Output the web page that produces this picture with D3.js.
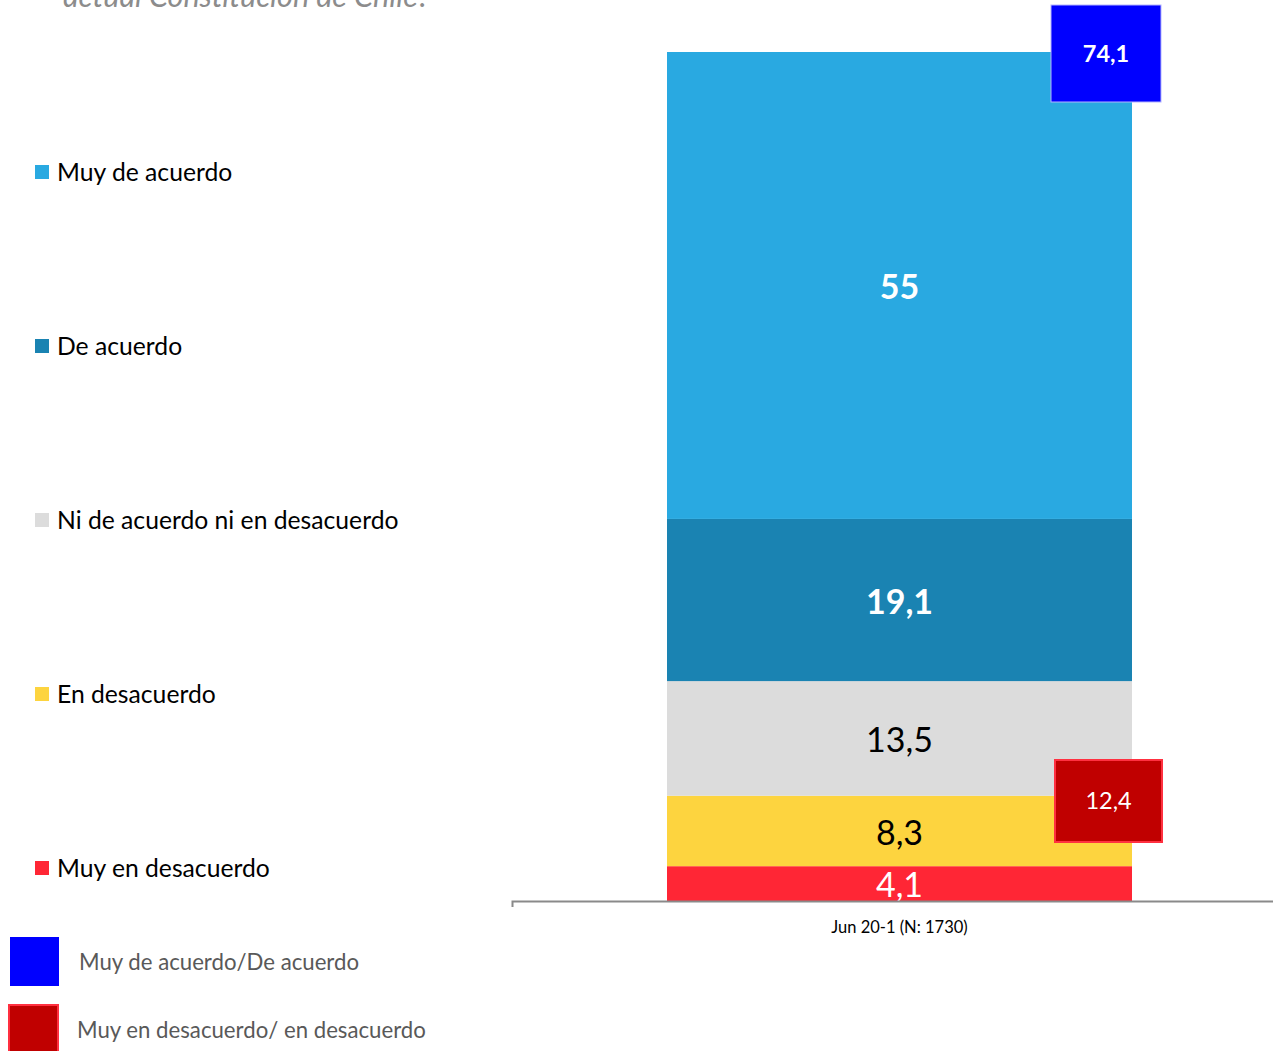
<!DOCTYPE html>
<html>
<head>
<meta charset="utf-8">
<script src="https://cdn.jsdelivr.net/npm/d3@7"></script>
<style>
  html, body { margin: 0; padding: 0; background: #fff; }
  svg { display: block; font-family: Lato, "Open Sans", sans-serif; }
</style>
</head>
<body>
<svg id="chart" width="1273" height="1051"></svg>
<script>
// Survey wave and answer categories (stacked from the bottom up)
const waves = ["Jun 20-1 (N: 1730)"];
const categories = ["Muy en desacuerdo", "En desacuerdo", "Ni de acuerdo ni en desacuerdo", "De acuerdo", "Muy de acuerdo"];
const values = [4.1, 8.3, 13.5, 19.1, 55];
const colors = ["#FF2635", "#FDD43F", "#DCDCDC", "#1A83B2", "#29A9E1"];
const labelColors = ["#ffffff", "#000000", "#000000", "#ffffff", "#ffffff"];
const labelWeights = ["normal", "normal", "normal", "bold", "bold"];

// Net groupings shown in the call-out boxes
const netLabels = ["Muy de acuerdo/De acuerdo", "Muy en desacuerdo/ en desacuerdo"];
const netValues = [74.1, 12.4];
const netColors = ["#0000FF", "#C00000"];
const netStrokes = ["#B4B4FF", "#FF3040"];

const questionTail = "actual Constitución de Chile?";

const fmt = v => String(v).replace(".", ",");

const svg = d3.select("#chart");

const y = d3.scaleLinear().domain([0, 100]).range([901, 52]);
const x = d3.scaleBand().domain(waves).range([512, 1287]).paddingInner(0).paddingOuter(1 / 3);

// Stack segments
let acc = 0;
const segs = values.map((v, i) => {
  const s = { i, v, y0: acc, y1: acc + v };
  acc += v;
  return s;
});

// Question text (its first lines run above the canvas)
svg.append("text")
  .attr("x", 63).attr("y", 7)
  .attr("font-size", 30.5).attr("font-style", "italic")
  .attr("fill", "#8C8C8C")
  .text(questionTail);

const bars = svg.append("g");
bars.selectAll("rect").data(segs).join("rect")
  .attr("x", x(waves[0]))
  .attr("width", x.bandwidth())
  .attr("y", d => y(d.y1))
  .attr("height", d => y(d.y0) - y(d.y1))
  .attr("fill", d => colors[d.i]);

bars.selectAll("text").data(segs).join("text")
  .attr("x", x(waves[0]) + x.bandwidth() / 2)
  .attr("y", d => (y(d.y0) + y(d.y1)) / 2)
  .attr("dy", "0.4em")
  .attr("text-anchor", "middle")
  .attr("font-size", 34)
  .attr("font-weight", d => labelWeights[d.i])
  .attr("fill", d => labelColors[d.i])
  .text(d => fmt(d.v));

// Category axis
const axis = svg.append("g")
  .attr("transform", "translate(0,901)")
  .call(d3.axisBottom(x).tickSize(0).tickSizeOuter(6).tickPadding(20));
axis.select(".domain").attr("stroke", "#8A8A8A").attr("stroke-width", 2);
axis.selectAll(".tick text")
  .attr("font-size", 16.5)
  .attr("font-family", "Lato, sans-serif")
  .attr("fill", "#000");

// Net call-out boxes
const boxes = [
  { x0: 1051, y0: 5, w: 110, h: 97, size: 23.5, weight: "bold" },
  { x0: 1055, y0: 760, w: 107, h: 82, size: 23.5, weight: "normal" }
];
const callouts = svg.append("g").selectAll("g").data(netValues).join("g");
callouts.append("rect")
  .attr("x", (d, i) => boxes[i].x0)
  .attr("y", (d, i) => boxes[i].y0)
  .attr("width", (d, i) => boxes[i].w)
  .attr("height", (d, i) => boxes[i].h)
  .attr("fill", (d, i) => netColors[i])
  .attr("stroke", (d, i) => netStrokes[i])
  .attr("stroke-width", (d, i) => i === 0 ? 1 : 2);
callouts.append("text")
  .attr("x", (d, i) => boxes[i].x0 + boxes[i].w / 2)
  .attr("y", (d, i) => boxes[i].y0 + boxes[i].h / 2)
  .attr("dy", "0.36em")
  .attr("text-anchor", "middle")
  .attr("font-size", (d, i) => boxes[i].size)
  .attr("font-weight", (d, i) => boxes[i].weight)
  .attr("fill", "#fff")
  .text(d => fmt(d));

// Category legend (top to bottom)
const legendOrder = categories.map((c, i) => i).reverse();
const legend = svg.append("g").selectAll("g").data(legendOrder).join("g")
  .attr("transform", (d, k) => `translate(35,${172 + k * 174})`);
legend.append("rect")
  .attr("x", 0).attr("y", -7).attr("width", 14).attr("height", 14)
  .attr("fill", d => colors[d]);
legend.append("text")
  .attr("x", 22).attr("y", 0).attr("dy", "0.36em")
  .attr("font-size", 24.7).attr("fill", "#000")
  .text(d => categories[d]);

// Net legend
const netLegend = svg.append("g").selectAll("g").data(netLabels).join("g");
netLegend.append("rect")
  .attr("x", (d, i) => i === 0 ? 10 : 9)
  .attr("y", (d, i) => i === 0 ? 937 : 1005)
  .attr("width", 49)
  .attr("height", 49)
  .attr("fill", (d, i) => netColors[i])
  .attr("stroke", (d, i) => i === 0 ? "none" : netStrokes[i])
  .attr("stroke-width", 2);
netLegend.append("text")
  .attr("x", (d, i) => i === 0 ? 79 : 77)
  .attr("y", (d, i) => i === 0 ? 962 : 1030)
  .attr("dy", "0.36em")
  .attr("font-size", 22.2).attr("fill", "#595959")
  .text(d => d);
</script>
</body>
</html>
